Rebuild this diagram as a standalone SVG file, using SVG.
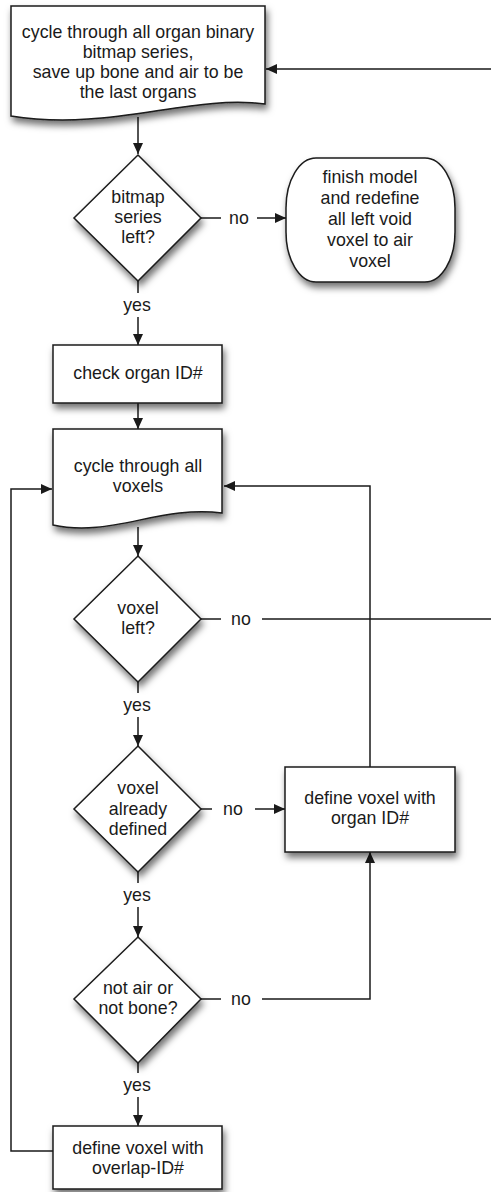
<svg xmlns="http://www.w3.org/2000/svg" width="491" height="1192" viewBox="0 0 491 1192">
<style>
.shape{fill:#fff;stroke:#1a1a1a;stroke-width:1.5;filter:url(#sh)}
.t{font-family:"Liberation Sans",Arial,sans-serif;font-size:17.8px;fill:#1a1a1a;text-anchor:middle}
.c{fill:none;stroke:#1a1a1a;stroke-width:1.5}
.a{marker-end:url(#ah)}
</style>
<defs>
<filter id="sh" x="-20%" y="-20%" width="150%" height="150%">
<feDropShadow dx="2" dy="5" stdDeviation="3.5" flood-color="#000" flood-opacity="0.55"/>
</filter>
<marker id="ah" markerUnits="userSpaceOnUse" markerWidth="12" markerHeight="10" refX="11" refY="5" orient="auto">
<path d="M0,0 L11,5 L0,10 Z" fill="#1a1a1a"/>
</marker>
</defs>
<g id="connectors">
<path class="c a" d="M138,117 V154"/>
<path class="c" d="M201,218 H221"/>
<text class="t" x="239" y="224">no</text>
<path class="c a" d="M257,218 H286"/>
<path class="c" d="M138,281 V293"/>
<text class="t" x="137" y="311">yes</text>
<path class="c a" d="M138,317 V345"/>
<path class="c a" d="M138,403 V429"/>
<path class="c a" d="M138,527 V556"/>
<path class="c" d="M201,619 H221"/>
<text class="t" x="241" y="625">no</text>
<path class="c a" d="M262,619 H500 V69 H266"/>
<path class="c" d="M138,682 V693"/>
<text class="t" x="137" y="711">yes</text>
<path class="c a" d="M138,717 V746"/>
<path class="c" d="M201,809 H212"/>
<text class="t" x="233" y="815">no</text>
<path class="c a" d="M255,809 H285"/>
<path class="c a" d="M370,767 V486 H224"/>
<path class="c" d="M138,872 V883"/>
<text class="t" x="137" y="901">yes</text>
<path class="c a" d="M138,907 V937"/>
<path class="c" d="M201,999 H221"/>
<text class="t" x="241" y="1005">no</text>
<path class="c a" d="M262,999 H370 V852"/>
<path class="c" d="M138,1063 V1073"/>
<text class="t" x="137" y="1091">yes</text>
<path class="c a" d="M138,1097 V1126"/>
<path class="c a" d="M53,1151 H11 V489 H52"/>
</g>
<g id="cycle-organs">
<path class="shape" d="M11,6 H265 V104 C190,94 110,132 11,116 Z"/>
<text class="t" x="138" y="38">cycle through all organ binary</text>
<text class="t" x="138" y="58">bitmap series,</text>
<text class="t" x="138" y="78">save up bone and air to be</text>
<text class="t" x="138" y="98">the last organs</text>
</g>
<g id="bitmap-left">
<path class="shape" d="M138,155 L201,218 L138,281 L74,218 Z"/>
<text class="t" x="138" y="203">bitmap</text>
<text class="t" x="138" y="223">series</text>
<text class="t" x="138" y="243">left?</text>
</g>
<g id="finish-model">
<rect class="shape" x="286" y="158" width="169" height="124" rx="30" ry="50"/>
<text class="t" x="370" y="183">finish model</text>
<text class="t" x="370" y="204">and redefine</text>
<text class="t" x="370" y="225">all left void</text>
<text class="t" x="370" y="246">voxel to air</text>
<text class="t" x="370" y="267">voxel</text>
</g>
<g id="check-organ">
<rect class="shape" x="53" y="345" width="169" height="58"/>
<text class="t" x="138" y="379">check organ ID#</text>
</g>
<g id="cycle-voxels">
<path class="shape" d="M53,429 H222 V513 C160,505 110,538 53,525 Z"/>
<text class="t" x="138" y="472">cycle through all</text>
<text class="t" x="138" y="492">voxels</text>
</g>
<g id="voxel-left">
<path class="shape" d="M138,556 L201,619 L138,682 L74,619 Z"/>
<text class="t" x="138" y="614">voxel</text>
<text class="t" x="138" y="634">left?</text>
</g>
<g id="already-defined">
<path class="shape" d="M138,746 L201,809 L138,872 L74,809 Z"/>
<text class="t" x="138" y="794">voxel</text>
<text class="t" x="138" y="815">already</text>
<text class="t" x="138" y="835">defined</text>
</g>
<g id="define-organ">
<rect class="shape" x="285" y="767" width="170" height="85"/>
<text class="t" x="370" y="804">define voxel with</text>
<text class="t" x="370" y="824">organ ID#</text>
</g>
<g id="not-air-bone">
<path class="shape" d="M138,937 L201,999 L138,1063 L74,999 Z"/>
<text class="t" x="138" y="994">not air or</text>
<text class="t" x="138" y="1014">not bone?</text>
</g>
<g id="define-overlap">
<rect class="shape" x="53" y="1126" width="169" height="63"/>
<text class="t" x="138" y="1154">define voxel with</text>
<text class="t" x="138" y="1174">overlap-ID#</text>
</g>
</svg>
